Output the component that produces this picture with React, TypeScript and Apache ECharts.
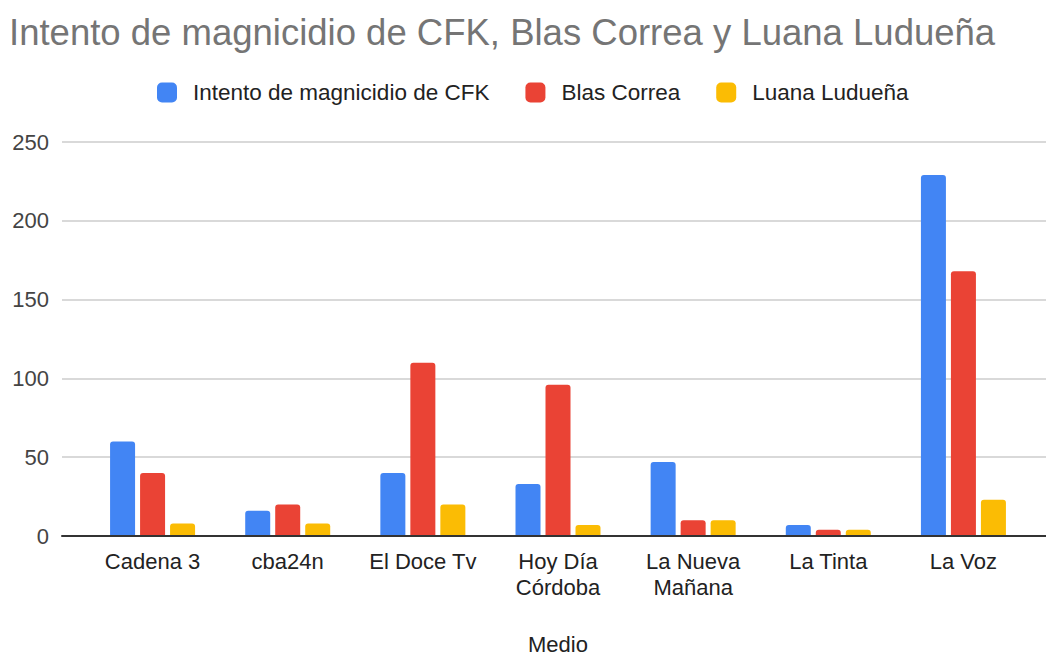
import React, { useEffect, useRef } from "react";
import * as echarts from "echarts";

const categories = ["Cadena 3", "cba24n", "El Doce Tv", "Hoy Día\nCórdoba", "La Nueva\nMañana", "La Tinta", "La Voz"];
const seriesNames = ["Intento de magnicidio de CFK", "Blas Correa", "Luana Ludueña"];
const cfkValues = [60, 16, 40, 33, 47, 7, 229];
const blasValues = [40, 20, 110, 96, 10, 4, 168];
const luanaValues = [8, 8, 20, 7, 10, 4, 23];
const seriesColors = ["#4285F4", "#EA4335", "#FBBC04"];
const yTicks = { min: 0, max: 250, interval: 50 };

const FONT = "'Liberation Sans', Arial, sans-serif";

export default function App() {
  const ref = useRef<HTMLDivElement>(null);
  useEffect(() => {
    if (!ref.current) return;
    const chart = echarts.init(ref.current, null, { renderer: "svg" });
    const values = [cfkValues, blasValues, luanaValues];
    chart.setOption({
      animation: false,
      backgroundColor: "#ffffff",
      textStyle: { fontFamily: FONT },
      title: {
        text: "Intento de magnicidio de CFK, Blas Correa y Luana Ludueña",
        left: 9,
        top: 14,
        padding: 0,
        textStyle: { fontFamily: FONT, fontSize: 36.5, fontWeight: "normal", color: "#757575" },
      },
      legend: {
        data: seriesNames,
        left: 157,
        top: 81,
        padding: 0,
        itemWidth: 20,
        itemHeight: 20,
        itemGap: 36,
        icon: "roundRect",
        textStyle: { fontFamily: FONT, fontSize: 22.5, color: "#222222", padding: [0, 0, 0, 11] },
      },
      grid: [
        { left: 62, right: 0, top: 142, bottom: 119, outerBoundsMode: "none" },
        { left: 85, right: 15, top: 142, bottom: 119, outerBoundsMode: "none" },
      ],
      xAxis: [
        {
          type: "category",
          gridIndex: 0,
          data: categories,
          axisLine: { show: true, lineStyle: { color: "#333333", width: 2 } },
          axisTick: { show: false },
          axisLabel: { show: false },
          z: 5,
        },
        {
          type: "category",
          gridIndex: 1,
          data: categories,
          axisLine: { show: false },
          axisTick: { show: false },
          axisLabel: {
            fontFamily: FONT,
            fontSize: 22,
            color: "#222222",
            margin: 12,
            lineHeight: 26,
            interval: 0,
          },
          name: "Medio",
          nameLocation: "middle",
          nameGap: 97,
          nameTextStyle: { fontFamily: FONT, fontSize: 22, color: "#222222" },
        },
      ],
      yAxis: [
        {
          type: "value",
          gridIndex: 0,
          ...yTicks,
          axisLine: { show: false },
          axisTick: { show: false },
          axisLabel: { fontFamily: FONT, fontSize: 22, color: "#444444", margin: 13 },
          splitLine: { show: true, lineStyle: { color: "#cccccc", width: 1.5 } },
        },
        {
          type: "value",
          gridIndex: 1,
          ...yTicks,
          axisLine: { show: false },
          axisTick: { show: false },
          axisLabel: { show: false },
          splitLine: { show: false },
        },
      ],
      series: seriesNames.map((name, i) => ({
        name,
        type: "bar",
        xAxisIndex: 1,
        yAxisIndex: 1,
        data: values[i],
        barWidth: 25,
        barGap: "20%",
        itemStyle: { color: seriesColors[i], borderRadius: [3, 3, 0, 0] },
      })),
    });
    return () => chart.dispose();
  }, []);
  return (
    <div
      ref={ref}
      style={{ position: "fixed", left: 0, top: 0, width: 1046, height: 655, background: "#fff" }}
    />
  );
}
